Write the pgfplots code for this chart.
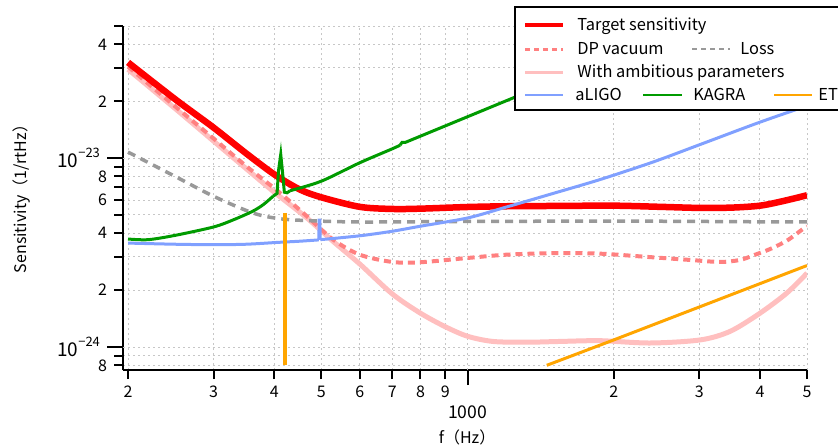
\documentclass[border=0pt]{standalone}
\usepackage{fontspec}
\setmainfont{Noto Sans CJK JP}
\usepackage{pgfplots}
\pgfplotsset{compat=1.18}
\definecolor{cTarget}{RGB}{255,0,0}
\definecolor{cDP}{RGB}{255,128,128}
\definecolor{cAmb}{RGB}{255,191,191}
\definecolor{cLoss}{RGB}{153,153,153}
\definecolor{cLIGO}{RGB}{128,160,255}
\definecolor{cKAGRA}{RGB}{0,155,0}
\definecolor{cET}{RGB}{255,165,0}
\begin{document}
\begin{tikzpicture}
\begin{axis}[
  name=ax, at={(0,0)}, anchor=south west,
  scale only axis, width=342pt, height=172pt,
  xmode=log, ymode=log,
  xmin=195.3, xmax=5000, ymin=7.55e-25, ymax=5e-23,
  axis lines*=left,
  axis line style={line width=1pt, black},
  tick align=outside,
  major tick length=4.5pt,
  tick style={line width=1pt, black},
  xtick={200,300,400,500,600,700,800,900,2000,3000,4000,5000},
  xticklabels={2,3,4,5,6,7,8,9,2,3,4,5},
  ytick={8e-25,9e-25,2e-24,3e-24,4e-24,5e-24,6e-24,7e-24,8e-24,9e-24,2e-23,3e-23,4e-23,5e-23},
  yticklabels={8,,2,,4,,6,,8,,2,,4,},
  minor xtick={}, minor ytick={},
  extra x ticks={1000}, extra x tick labels={{\fontsize{8.8}{10}\selectfont 1000}},
  extra x tick style={major tick length=7.5pt, grid=major, xticklabel style={yshift=-7pt}},
  extra y ticks={1e-24,1e-23},
  extra y tick labels={{\fontsize{9.5}{11}\selectfont 10\raisebox{5pt}{\fontsize{6.5}{7}\selectfont −24}},{\fontsize{9.5}{11}\selectfont 10\raisebox{5pt}{\fontsize{6.5}{7}\selectfont −23}}},
  extra y tick style={major tick length=8pt, grid=major},
  grid=major,
  major grid style={line width=0.5pt, black!22, dash pattern=on 1pt off 1.5pt},
  tick label style={font=\fontsize{8}{10}\selectfont},
  xlabel={f（Hz）}, ylabel={Sensitivity（1/rtHz）},
  label style={font=\fontsize{8}{10}\selectfont},
  xlabel style={at={(axis description cs:0.503,-0.195)}, anchor=center},
  ylabel style={at={(axis description cs:-0.148,0.509)}, anchor=center, rotate=0},
]
% With ambitious parameters
\addplot[cAmb, line width=2.5pt, smooth, tension=0.5] coordinates {
(200,2.95e-23)(250,1.83e-23)(300,1.23e-23)(350,8.8e-24)(400,6.6e-24)(467,4.82e-24)(529,3.62e-24)(600,2.75e-24)(700,1.91e-24)(800,1.51e-24)(900,1.28e-24)(1000,1.14e-24)(1128,1.07e-24)(1324,1.06e-24)(1550,1.07e-24)(1874,1.08e-24)(2376,1.05e-24)(3012,1.09e-24)(3472,1.21e-24)(4000,1.51e-24)(4542,1.93e-24)(5000,2.46e-24)};
% DP vacuum
\addplot[cDP, line width=2pt, dash pattern=on 3.5pt off 2.5pt, smooth, tension=0.5] coordinates {
(200,3.05e-23)(250,1.88e-23)(300,1.27e-23)(350,9.08e-24)(407,6.68e-24)(467,4.92e-24)(529,3.70e-24)(600,3.08e-24)(700,2.82e-24)(800,2.81e-24)(1000,2.96e-24)(1200,3.08e-24)(1500,3.14e-24)(1874,3.12e-24)(2338,3.00e-24)(2872,2.89e-24)(3310,2.82e-24)(3640,2.89e-24)(3908,3.08e-24)(4196,3.30e-24)(4548,3.66e-24)(4906,4.22e-24)(5000,4.35e-24)};
% Loss
\addplot[cLoss, line width=1.75pt, dash pattern=on 4pt off 3pt, smooth, tension=0.5] coordinates {
(200,1.076e-23)(250,8.0e-24)(300,6.28e-24)(361,5.13e-24)(407,4.79e-24)(467,4.67e-24)(600,4.59e-24)(1000,4.62e-24)(2000,4.64e-24)(3000,4.62e-24)(4000,4.60e-24)(5000,4.59e-24)};
% Target sensitivity
\addplot[cTarget, line width=3.25pt, smooth, tension=0.5] coordinates {
(200,3.21e-23)(250,2.05e-23)(300,1.45e-23)(350,1.06e-23)(400,8.2e-24)(450,6.85e-24)(500,6.2e-24)(600,5.52e-24)(700,5.38e-24)(800,5.40e-24)(1000,5.51e-24)(1200,5.56e-24)(1500,5.58e-24)(2000,5.60e-24)(2500,5.52e-24)(3000,5.45e-24)(3500,5.47e-24)(4000,5.60e-24)(4460,5.92e-24)(5000,6.36e-24)};
% aLIGO
\addplot[cLIGO, line width=1.5pt, smooth, tension=0.5] coordinates {
(200,3.55e-24)(250,3.50e-24)(300,3.48e-24)(350,3.50e-24)(407,3.58e-24)(450,3.63e-24)(494,3.69e-24)};
\addplot[cLIGO, line width=1.5pt] coordinates {
(494,3.69e-24)(495,4.69e-24)(496.5,4.69e-24)(497.5,3.70e-24)};
\addplot[cLIGO, line width=1.5pt, smooth, tension=0.5] coordinates {
(497.5,3.70e-24)(600,3.88e-24)(700,4.10e-24)(800,4.36e-24)(1000,4.82e-24)(1200,5.50e-24)(1500,6.50e-24)(1874,7.70e-24)(2400,9.5e-24)(3012,1.18e-23)(4000,1.55e-23)(5000,1.89e-23)};
% KAGRA
\addplot[cKAGRA, line width=1.5pt, smooth, tension=0.5] coordinates {
(200,3.73e-24)(220,3.70e-24)(250,3.90e-24)(300,4.32e-24)(330,4.72e-24)(361,5.23e-24)(380,5.68e-24)(397.7,6.28e-24)};
\addplot[cKAGRA, line width=1.5pt] coordinates {
(397.7,6.28e-24)(405.3,6.5e-24)(408.2,8.6e-24)(412.5,1.046e-23)(416,8.4e-24)(419.6,6.6e-24)(425.1,6.55e-24)(431.1,6.72e-24)};
\addplot[cKAGRA, line width=1.5pt, smooth, tension=0.5] coordinates {
(431.1,6.72e-24)(500,7.55e-24)(600,9.45e-24)(700,1.12e-23)(726,1.17e-23)};
\addplot[cKAGRA, line width=1.5pt] coordinates {
(726,1.17e-23)(733,1.21e-23)(744,1.21e-23)(1223,2.05e-23)(2738,4.87e-23)};
% ET
\addplot[cET, line width=1.75pt] coordinates {(421,5.13e-24)(421,8.0e-25)};
\addplot[cET, line width=1.5pt] coordinates {(1456,8.0e-25)(2000,1.09e-24)(5000,2.70e-24)};
\end{axis}
\begin{scope}[shift={(-61.5pt,185pt)}, x=0.5pt, y=-0.5pt]
  \draw[line width=1pt, fill=white] (515,7) rectangle (880,110);
  \draw[cTarget, line width=2pt] (525,25) -- (563,25);
  \node[anchor=mid west, inner sep=0pt, font=\fontsize{8.2}{10}\selectfont] at (577,25) {Target sensitivity};
  \draw[cDP, line width=1.5pt, dash pattern=on 2.5pt off 2pt] (525,49) -- (563,49);
  \node[anchor=mid west, inner sep=0pt, font=\fontsize{8.2}{10}\selectfont] at (577,49) {DP vacuum};
  \draw[cLoss, line width=1.25pt, dash pattern=on 2.5pt off 2pt] (692,49) -- (730,49);
  \node[anchor=mid west, inner sep=0pt, font=\fontsize{8.2}{10}\selectfont] at (740,49) {Loss};
  \draw[cAmb, line width=1.5pt] (525,72) -- (563,72);
  \node[anchor=mid west, inner sep=0pt, font=\fontsize{8.2}{10}\selectfont] at (577,72) {With ambitious parameters};
  \draw[cLIGO, line width=1.25pt] (525,95) -- (563,95);
  \node[anchor=mid west, inner sep=0pt, font=\fontsize{8.2}{10}\selectfont] at (575,95) {aLIGO};
  \draw[cKAGRA, line width=1.25pt] (643,95) -- (682,95);
  \node[anchor=mid west, inner sep=0pt, font=\fontsize{8.2}{10}\selectfont] at (693,95) {KAGRA};
  \draw[cET, line width=1.25pt] (774,95) -- (812,95);
  \node[anchor=mid west, inner sep=0pt, font=\fontsize{8.2}{10}\selectfont] at (818,95) {ET};
  \pgfresetboundingbox
  \path[use as bounding box] (0,0) rectangle (838,447);
\end{scope}
\end{tikzpicture}
\end{document}
